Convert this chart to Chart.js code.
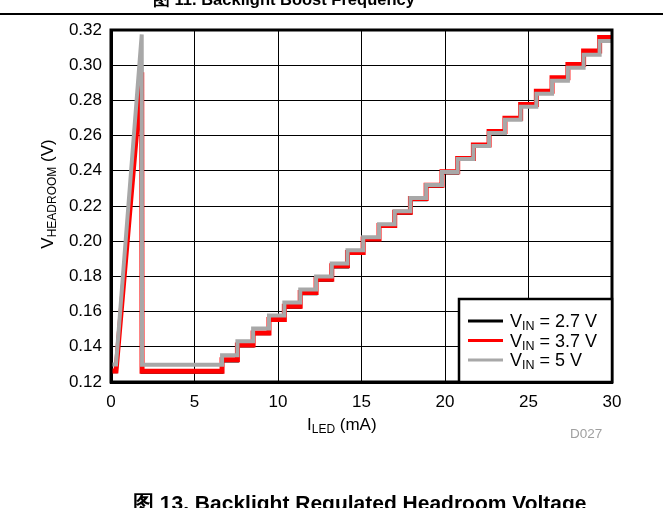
<!DOCTYPE html>
<html><head><meta charset="utf-8">
<script src="https://cdn.jsdelivr.net/npm/chart.js@4.4.0/dist/chart.umd.min.js"></script>
<style>html,body{margin:0;padding:0;background:#fff;overflow:hidden}canvas{display:block}</style>
</head><body>
<canvas id="c" width="663" height="508"></canvas>
<script>
// ---- data ----
const xTicks = [0, 5, 10, 15, 20, 25, 30];
const yTicks = ['0.12','0.14','0.16','0.18','0.20','0.22','0.24','0.26','0.28','0.30','0.32'];
const seriesLabels = ['2.7 V', '3.7 V', '5 V'];

// start-up spike (I_LED mA)
const spikeX = [0, 0.3, 1.84, 1.86];
const spike27 = [0.1258, 0.1258, 0.3000, 0.1256];
const spike37 = [0.1262, 0.1262, 0.2960, 0.1261];
const spike5  = [0.1299, 0.1299, 0.3175, 0.1298];

// staircase: current where each step begins
const stepStart = [6.65, 7.57, 8.51, 9.46, 10.38, 11.33, 12.28, 13.22, 14.16, 15.10, 16.05, 16.99, 17.93,
                   18.87, 19.82, 20.76, 21.70, 22.64, 23.59, 24.53, 25.47, 26.41, 27.36, 28.30, 29.26];
const steps27 = [0.1320, 0.1404, 0.1474, 0.1549, 0.1625, 0.1702, 0.1778, 0.1854, 0.1930, 0.2007, 0.2083, 0.2159, 0.2236,
                 0.2312, 0.2388, 0.2464, 0.2541, 0.2617, 0.2693, 0.2770, 0.2846, 0.2922, 0.2998, 0.3074, 0.3151];
const steps37 = [0.1326, 0.1410, 0.1479, 0.1555, 0.1631, 0.1708, 0.1784, 0.1860, 0.1936, 0.2013, 0.2089, 0.2165, 0.2242,
                 0.2318, 0.2394, 0.2470, 0.2547, 0.2623, 0.2699, 0.2776, 0.2852, 0.2928, 0.3004, 0.3080, 0.3157];
const steps5  = [0.1352, 0.1432, 0.1504, 0.1578, 0.1652, 0.1726, 0.1800, 0.1874, 0.1948, 0.2022, 0.2096, 0.2170, 0.2245,
                 0.2319, 0.2393, 0.2467, 0.2541, 0.2615, 0.2690, 0.2764, 0.2838, 0.2912, 0.2986, 0.3060, 0.3137];

function buildSeries(spikeY, levels) {
  const pts = spikeX.map((x, i) => ({x, y: spikeY[i]}));
  let prev = spikeY[spikeY.length - 1];
  stepStart.forEach((x, i) => {
    pts.push({x, y: prev});
    pts.push({x, y: levels[i]});
    prev = levels[i];
  });
  pts.push({x: 30, y: prev});
  return pts;
}

const colors = ['#000000', '#ff0000', '#a8a8a8'];
const FONT = '"Liberation Sans", Arial, sans-serif';

function drawRich(ctx, parts, x, y) {
  let cx = x;
  parts.forEach(p => {
    ctx.font = p.font;
    ctx.fillText(p.t, cx, y + (p.dy || 0));
    cx += ctx.measureText(p.t).width;
  });
  return cx;
}

const decor = {
  id: 'decor',
  afterDraw(chart) {
    const ctx = chart.ctx;
    const a = chart.chartArea;
    ctx.save();
    // frame
    ctx.strokeStyle = '#000';
    ctx.lineWidth = 3;
    ctx.strokeRect(a.left, a.top, a.right - a.left, a.bottom - a.top);

    // top clipped title + separator
    ctx.fillStyle = '#000';
    ctx.textBaseline = 'alphabetic';
    ctx.textAlign = 'left';
    ctx.font = 'bold 16.5px ' + FONT;
    ctx.fillText('图 11. Backlight Boost Frequency', 153, 5);
    ctx.fillRect(0, 13, 663, 2);
    // bottom caption (clipped by page edge)
    ctx.font = 'bold 21px ' + FONT;
    ctx.fillText('图 13. Backlight Regulated Headroom Voltage', 133, 510);

    // x title
    drawRich(ctx, [
      {t: 'I', font: '17px ' + FONT},
      {t: 'LED', font: '12px ' + FONT, dy: 3},
      {t: ' (mA)', font: '17px ' + FONT}
    ], 307, 430);

    // y title (rotated)
    ctx.save();
    ctx.translate(53, 194);
    ctx.rotate(-Math.PI / 2);
    const parts = [
      {t: 'V', font: '17px ' + FONT},
      {t: 'HEADROOM', font: '12px ' + FONT, dy: 3},
      {t: ' (V)', font: '17px ' + FONT}
    ];
    let w = 0;
    parts.forEach(p => { ctx.font = p.font; w += ctx.measureText(p.t).width; });
    drawRich(ctx, parts, -w / 2, 0);
    ctx.restore();

    // D027
    ctx.fillStyle = '#a0a0a0';
    ctx.font = '13.5px ' + FONT;
    ctx.fillText('D027', 570, 438);

    // legend
    const lx = 459, ly = 299, lr = a.right, lb = a.bottom;
    ctx.fillStyle = '#fff';
    ctx.fillRect(lx, ly, lr - lx, lb - ly);
    ctx.strokeStyle = '#000';
    ctx.lineWidth = 2.5;
    ctx.strokeRect(lx, ly, lr - lx, lb - ly);
    seriesLabels.forEach((lab, i) => {
      const yy = 321 + i * 19.5;
      ctx.strokeStyle = colors[i];
      ctx.lineWidth = 3;
      ctx.beginPath();
      ctx.moveTo(468, yy);
      ctx.lineTo(503, yy);
      ctx.stroke();
      ctx.fillStyle = '#000';
      drawRich(ctx, [
        {t: 'V', font: '18px ' + FONT},
        {t: 'IN', font: '12.5px ' + FONT, dy: 3},
        {t: ' = ' + lab, font: '18px ' + FONT}
      ], 510, yy + 6);
    });
    ctx.restore();
  }
};

new Chart(document.getElementById('c'), {
  type: 'line',
  data: {
    datasets: [
      {label: 'VIN = 2.7 V', data: buildSeries(spike27, steps27), borderColor: colors[0], borderWidth: 3, order: 2},
      {label: 'VIN = 3.7 V', data: buildSeries(spike37, steps37), borderColor: colors[1], borderWidth: 5, order: 1},
      {label: 'VIN = 5 V',   data: buildSeries(spike5, steps5),   borderColor: colors[2], borderWidth: 4, order: 0}
    ]
  },
  options: {
    responsive: false,
    animation: false,
    devicePixelRatio: 1,
    layout: {padding: {left: 0, top: 30, right: 51, bottom: 0}},
    elements: {point: {radius: 0}, line: {tension: 0, borderJoinStyle: 'miter', borderCapStyle: 'butt'}},
    plugins: {legend: {display: false}, tooltip: {enabled: false}, title: {display: false}},
    scales: {
      x: {
        type: 'linear', min: 0, max: 30,
        afterBuildTicks: s => { s.ticks = xTicks.map(v => ({value: v})); },
        ticks: {color: '#000', font: {family: FONT, size: 17}, padding: 10, maxRotation: 0, callback: v => String(v)},
        grid: {color: '#000', lineWidth: 1, drawTicks: false},
        border: {display: true, color: '#000', width: 3},
        afterFit: s => { s.height = 126; }
      },
      y: {
        type: 'linear', min: 0.12, max: 0.32,
        afterBuildTicks: s => { s.ticks = yTicks.map(v => ({value: parseFloat(v)})); },
        ticks: {color: '#000', font: {family: FONT, size: 17}, padding: 9, callback: v => v.toFixed(2)},
        grid: {color: '#000', lineWidth: 1, drawTicks: false},
        border: {display: true, color: '#000', width: 3},
        afterFit: s => { s.width = 111; }
      }
    }
  },
  plugins: [decor]
});
</script>
</body></html>
